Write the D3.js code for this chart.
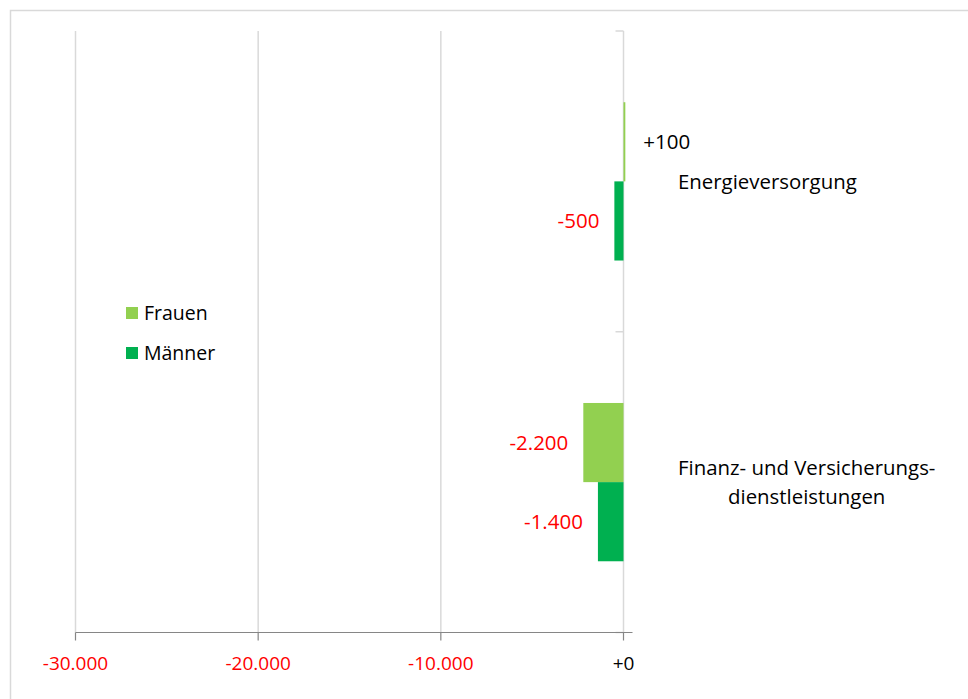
<!DOCTYPE html>
<html>
<head>
<meta charset="utf-8">
<script src="https://cdn.jsdelivr.net/npm/d3@7"></script>
<style>
  html, body { margin: 0; padding: 0; background: #fff; }
  svg { display: block; font-family: "Open Sans", "Noto Sans", sans-serif; }
</style>
</head>
<body>
<svg id="chart" width="968" height="699"></svg>
<script>
// Change in employment by sector and sex
const categories = ["Energieversorgung", "Finanz- und Versicherungs-\ndienstleistungen"];
const seriesNames = ["Frauen", "Männer"];
const frauen = [100, -2200];
const maenner = [-500, -1400];
const xTicks = [-30000, -20000, -10000, 0];
const seriesColors = ["#92d050", "#00b050"];

const values = [frauen, maenner];

const de = d3.formatLocale({ decimal: ",", thousands: ".", grouping: [3], currency: ["", " €"], minus: "-" });
const fmt = de.format("+,");

const svg = d3.select("#chart");
const W = 968, H = 699;

// Outer frame
svg.append("rect")
  .attr("x", 10.5).attr("y", 10.5)
  .attr("width", W).attr("height", H)
  .attr("fill", "none").attr("stroke", "#d9d9d9").attr("stroke-width", 1.5);

const plot = { left: 75.5, right: 623.5, top: 31, bottom: 632.5 };

const x = d3.scaleLinear().domain([-30000, 0]).range([plot.left, plot.right]);
const y = d3.scaleBand().domain(d3.range(categories.length)).range([plot.top, plot.bottom]);
const inner = d3.scaleBand().domain(d3.range(seriesNames.length))
  .range([0, y.bandwidth()]).paddingOuter(0.9).paddingInner(0);

// Vertical gridlines
svg.append("g").selectAll("line").data(xTicks).join("line")
  .attr("x1", d => x(d)).attr("x2", d => x(d))
  .attr("y1", plot.top).attr("y2", plot.bottom)
  .attr("stroke", "#d9d9d9").attr("stroke-width", 1.5);

// Category axis at zero with tick marks between bands
const catTicks = [plot.top, y(1), plot.bottom];
svg.append("g").selectAll("line").data(catTicks).join("line")
  .attr("x1", x(0) - 8).attr("x2", x(0))
  .attr("y1", d => d).attr("y2", d => d)
  .attr("stroke", "#d9d9d9").attr("stroke-width", 1.5);

// Bars
values.forEach((vals, s) => {
  svg.append("g").selectAll("rect").data(vals).join("rect")
    .attr("x", d => x(Math.min(0, d)))
    .attr("width", d => Math.abs(x(d) - x(0)))
    .attr("y", (d, i) => y(i) + inner(s))
    .attr("height", inner.bandwidth())
    .attr("fill", seriesColors[s]);
});

// Value labels beside bars
values.forEach((vals, s) => {
  svg.append("g").selectAll("text").data(vals).join("text")
    .attr("x", d => d < 0 ? x(d) - 15 : x(d) + 18)
    .attr("y", (d, i) => y(i) + inner(s) + inner.bandwidth() / 2)
    .attr("dy", "0.35em")
    .attr("text-anchor", d => d < 0 ? "end" : "start")
    .attr("font-size", 20.5)
    .attr("fill", d => d < 0 ? "#ff0000" : "#000")
    .text(d => fmt(d));
});

// Category labels on the right
const catG = svg.append("g");
categories.forEach((c, i) => {
  const lines = c.split("\n");
  const t = catG.append("text")
    .attr("font-size", 20.4).attr("fill", "#000");
  const cy = y(i) + y.bandwidth() / 2;
  const lh = 29;
  lines.forEach((ln, k) => {
    t.append("tspan")
      .attr("x", 678)
      .attr("y", cy + (k - (lines.length - 1) / 2) * lh)
      .attr("dy", "0.35em")
      .text(ln);
  });
  // center continuation lines under the first line
  if (lines.length > 1) {
    const spans = t.selectAll("tspan").nodes();
    const w0 = spans[0].getComputedTextLength();
    spans.slice(1).forEach(sp => {
      const w = sp.getComputedTextLength();
      d3.select(sp).attr("x", 678 + (w0 - w) / 2);
    });
  }
});

// Bottom value axis
const axisG = svg.append("g").attr("transform", `translate(0,${plot.bottom})`);
axisG.append("line")
  .attr("x1", plot.left).attr("x2", x(0) + 9)
  .attr("stroke", "#868686").attr("stroke-width", 1.2);
axisG.selectAll("line.tick").data(xTicks).join("line")
  .attr("class", "tick")
  .attr("x1", d => x(d)).attr("x2", d => x(d))
  .attr("y1", 0).attr("y2", 8)
  .attr("stroke", "#868686").attr("stroke-width", 1.2);
axisG.selectAll("text").data(xTicks).join("text")
  .attr("x", d => x(d)).attr("y", 31)
  .attr("dy", "0.35em")
  .attr("text-anchor", "middle")
  .attr("font-size", 19)
  .attr("fill", d => d < 0 ? "#ff0000" : "#000")
  .text(d => fmt(d));

// Legend
const leg = svg.append("g").attr("transform", "translate(126,307)");
seriesNames.forEach((n, i) => {
  const g = leg.append("g").attr("transform", `translate(0,${i * 40})`);
  g.append("rect").attr("width", 12).attr("height", 12).attr("fill", seriesColors[i]);
  g.append("text").attr("x", 18).attr("y", 6).attr("dy", "0.35em")
    .attr("font-size", 19.5).attr("fill", "#000").text(n);
});
</script>
</body>
</html>
